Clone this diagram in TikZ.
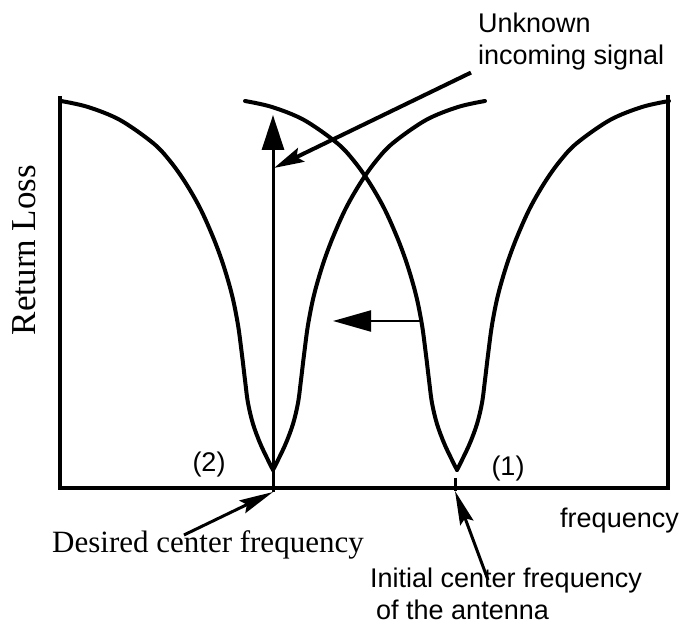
\documentclass[tikz,border=0pt]{standalone}
\usepackage{fontspec}
\usetikzlibrary{positioning, arrows.meta}
\setmainfont{Liberation Serif}
\setsansfont{Liberation Sans}

% one half of a return-loss dip, from the cusp outwards
\newcommand{\dipbranch}{plot[smooth, tension=0.55] coordinates {
  (0,470) (6,458) (13,443) (20,424) (25,403) (28,380) (31,355) (35,325)
  (41,295) (50,264) (60,237) (73,208) (88,182) (103,161) (120,143)
  (153,120) (185,107) (212,101)}}

\begin{document}
\begin{tikzpicture}[x=1pt, y=-1pt,
  frame/.style={line width=3.2pt, line join=miter},
  curve/.style={line width=4pt, line cap=round},
  uparr/.style={line width=3pt, -{Triangle[length=35pt, width=22pt]}},
  shiftarr/.style={line width=2.2pt, -{Triangle[length=38pt, width=21pt]}},
  sigarr/.style={line width=4pt, -{Stealth[length=30pt, width=15pt, inset=5pt]}},
  notearr/.style={line width=3pt, -{Stealth[length=34pt, width=14pt, inset=5pt]}},
  sanslbl/.style={font=\sffamily\fontsize{27}{32}\selectfont, inner sep=0pt},
  seriflbl/.style={font=\rmfamily\fontsize{31}{36}\selectfont, inner sep=0pt},
]
\useasboundingbox (0,0) rectangle (681,628);

% Axes
\draw[frame] (60,96) -- (60,488) -- (668,488) -- (668,95);

% Dips (2) and (1)
\foreach \cx in {273,457}
  \foreach \s in {1,-1}
    \draw[curve, shift={(\cx,0)}, xscale=\s] \dipbranch;

% Points on the axes
\coordinate (fdes) at (273,492);
\coordinate (fini) at (455,491);
\coordinate (peak) at (273,115);
\coordinate (sig) at (274,168);
\coordinate (shiftfrom) at (421,321);
\coordinate (shiftto) at (333,321);
\draw[line width=3pt] (455,478) -- (fini);

% Labels
\node[sanslbl, anchor=north west, align=left] (unk) at (478,13)
  {Unknown\\incoming signal};
\node[seriflbl, font=\rmfamily\fontsize{35}{40}\selectfont, rotate=90] (rl)
  at (24,250) {Return Loss};
\node[sanslbl] (n2) at (209,465) {(2)};
\node[sanslbl] (n1) at (508,469) {(1)};
\node[sanslbl, anchor=base east] (freq) at (679,528) {frequency};
\node[seriflbl, anchor=base west] (des) at (52,553) {Desired center frequency};
\node[sanslbl, anchor=north west, align=left] (init) at (370,568)
  {Initial center frequency\\\hspace{6pt}of the antenna};

% Arrows
\draw[uparr] (fdes) -- (peak);
\draw[shiftarr] (shiftfrom) -- (shiftto);
\draw[sigarr] ([xshift=-7pt, yshift=-2pt]unk.south west) -- (sig);
\draw[notearr] ([xshift=-24pt, yshift=-4pt]des.north) -- (fdes);
\draw[notearr] ([xshift=-18pt, yshift=-12pt]init.north) -- (fini);

\end{tikzpicture}
\end{document}
